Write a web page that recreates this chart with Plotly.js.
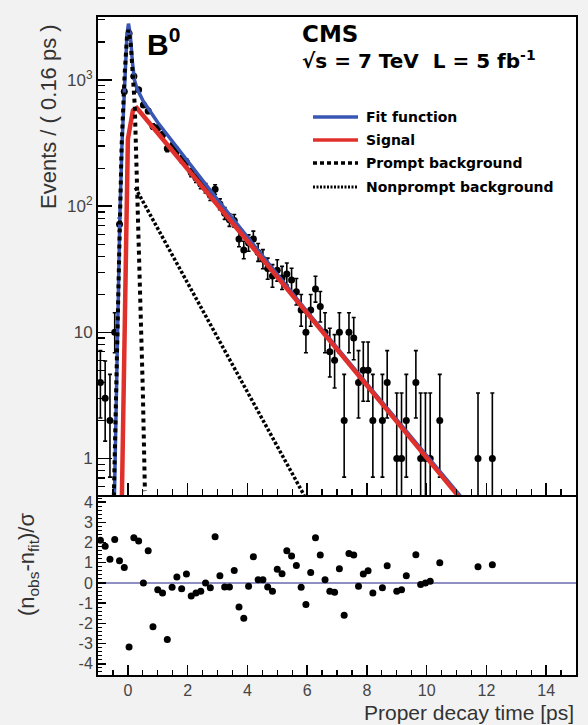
<!DOCTYPE html>
<html>
<head>
<meta charset="utf-8">
<script src="https://cdn.plot.ly/plotly-3.0.1.min.js"></script>
<style>
  html, body { margin: 0; padding: 0; background: #f2f2f2; }
  #chart { width: 588px; height: 725px; }
</style>
</head>
<body>
<div id="chart"></div>
<script>
// ---- data ----
// bin centres (ps), 0.16 ps bins
const binT = [-0.92,-0.76,-0.60,-0.44,-0.28,-0.12,0.04,0.20,0.36,0.52,0.68,0.84,1.00,1.16,1.32,1.48,1.64,1.80,1.96,2.12,2.28,2.44,2.60,2.76,2.92,3.08,3.24,3.40,3.56,3.72,3.88,4.04,4.20,4.36,4.52,4.68,4.84,5.00,5.16,5.32,5.48,5.64,5.80,5.96,6.12,6.28,6.44,6.60,6.76,6.92,7.08,7.24,7.40,7.56,7.72,7.88,8.04,8.20,8.52,8.68,9.00,9.16,9.32,9.64,9.80,9.96,10.12,10.44,11.72,12.20];
// events per bin
const events = [4,3,2,10,72,811,2342,1070,838,635,568,428,417,369,287,299,275,237,223,185,167,150,139,122,136,104,88,78,77,55,45,51,55,43,38,32,28,31,27,29,26,21,15,10,15,22,16,10,7,6,10,2,10,9,4,5,5,2,2,4,1,1,2,4,1,1,1,2,1,1];
// asymmetric (Poisson) error bars
const errUp = [3.16,2.92,2.64,4.27,8.5,28.5,48.4,32.7,28.9,25.2,23.8,20.7,20.4,19.2,16.9,17.3,16.6,15.4,14.9,13.6,12.9,12.2,11.8,11.0,11.7,10.2,9.4,8.8,8.8,8.45,7.76,8.18,8.45,7.61,7.22,6.73,6.38,6.64,6.29,6.47,6.19,5.67,4.95,4.27,4.95,5.78,5.08,4.27,3.77,3.58,4.27,2.64,4.27,4.11,3.16,3.38,3.38,2.64,2.64,3.16,2.30,2.30,2.64,3.16,2.30,2.30,2.30,2.64,2.30,2.30];
const errDown = [1.91,1.63,1.29,3.11,8.5,28.5,48.4,32.7,28.9,25.2,23.8,20.7,20.4,19.2,16.9,17.3,16.6,15.4,14.9,13.6,12.9,12.2,11.8,11.0,11.7,10.2,9.4,8.8,8.8,7.39,6.68,7.11,7.39,6.53,6.14,5.63,5.27,5.54,5.18,5.36,5.08,4.55,3.82,3.11,3.82,4.66,3.95,3.11,2.58,2.38,3.11,1.29,3.11,2.94,1.91,2.16,2.16,1.29,1.29,1.91,0.83,0.83,1.29,1.91,0.83,0.83,0.83,1.29,0.83,0.83];
// residuals (n_obs - n_fit)/sigma
const pulls = [2.11,1.82,1.17,2.15,1.10,0.76,-3.17,2.23,2.08,0.00,1.59,-2.16,-0.33,-0.49,-2.80,-0.21,0.29,-0.28,0.44,-0.65,-0.49,-0.41,0.00,-0.24,2.28,0.36,-0.20,-0.20,0.62,-1.19,-1.74,-0.16,1.30,0.16,0.16,-0.20,-0.41,0.68,0.46,1.59,1.33,0.86,-0.21,-1.06,0.52,2.23,1.38,0.16,-0.41,-0.46,0.70,-1.59,1.46,1.38,-0.16,0.44,0.60,-0.49,-0.24,0.85,-0.41,-0.33,0.36,1.40,-0.08,0.00,0.08,1.00,0.80,0.90];

// fit curves
const fitT = [-0.45,-0.40,-0.36,-0.32,-0.27,-0.20,-0.10,-0.03,0.02,0.08,0.15,0.22,0.30,0.50,1.0,2.0,3.0,4.0,5.0,6.0,8.0,11.3];
const fitV = [0.5,2.5,8,20,80,300,1100,2300,2800,2300,1400,1000,860,690,460,225,113,57,29,14.6,3.9,0.45];
const sigT = [-0.20,-0.10,0.00,0.17,0.30,4.0,8.0,11.1];
const sigV = [0.5,19.5,340,575,600,53,3.8,0.49];
const promptT = [-0.47,-0.41,-0.37,-0.33,-0.28,-0.21,-0.11,-0.03,0.02,0.10,0.23,0.30,0.43,0.50,0.57];
const promptV = [0.5,2.5,8,20,80,300,1100,2200,2500,1900,630,162,20,3.5,0.55];
const nonpT = [0.25,5.9];
const nonpV = [140,0.51];

const logTickVals = [1,10,100,1000];
const logTickText = ['1','10','10<sup>2</sup>','10<sup>3</sup>'];
const xTickVals = [0,2,4,6,8,10,12,14];
const pullTickVals = [-4,-3,-2,-1,0,1,2,3,4];
const pullTickText = ['-4','-3','-2','-1','0','1','2','3','4'];

const legendNames = ['Fit function','Signal','Prompt background','Nonprompt background'];

// ---- figure ----
const FONT = 'Liberation Sans, Arial, Helvetica, sans-serif';
const WIDE = 'DejaVu Sans, Liberation Sans, sans-serif';
const minorLog = [];
[0.1,1,10,100,1000].forEach(d => { for (let k = 2; k <= 9; k++) minorLog.push(k*d); });

const traces = [
  {x: binT, y: events, type: 'scatter', mode: 'markers', xaxis: 'x', yaxis: 'y',
   marker: {color: 'black', size: 7},
   error_y: {type: 'data', symmetric: false, array: errUp, arrayminus: errDown, color: 'black', thickness: 1.6, width: 2},
   showlegend: false},
  {x: fitT, y: fitV, type: 'scatter', mode: 'lines', xaxis: 'x', yaxis: 'y',
   line: {color: '#3a56b4', width: 3.5}, showlegend: false},
  {x: sigT, y: sigV, type: 'scatter', mode: 'lines', xaxis: 'x', yaxis: 'y',
   line: {color: '#e0302c', width: 4.5}, showlegend: false},
  {x: nonpT, y: nonpV, type: 'scatter', mode: 'lines', xaxis: 'x', yaxis: 'y',
   line: {color: 'black', width: 3.5, dash: '3px,2px'}, showlegend: false},
  {x: promptT, y: promptV, type: 'scatter', mode: 'lines', xaxis: 'x', yaxis: 'y',
   line: {color: 'black', width: 4, dash: '4px,4px'}, showlegend: false},
  {x: binT, y: pulls, type: 'scatter', mode: 'markers', xaxis: 'x2', yaxis: 'y2',
   marker: {color: 'black', size: 7}, showlegend: false}
];

// plot-area pixel helpers (for annotations placed like the original)
const L = 98, R = 576, T = 17, B = 675;
const px = v => (v - L) / (R - L);
const py = v => (B - v) / (B - T);

const legendStyles = [
  {color: '#3a56b4', width: 3.5, dash: 'solid'},
  {color: '#e0302c', width: 3.5, dash: 'solid'},
  {color: 'black', width: 3.5, dash: '4px,3px'},
  {color: 'black', width: 3, dash: '2px,1.5px'}
];
const legendRowsY = [117, 140, 163, 187];

const shapes = [
  {type: 'line', xref: 'x2 domain', yref: 'y2', x0: 0, x1: 1, y0: 0, y1: 0,
   line: {color: '#6a6ab0', width: 1.5}, layer: 'below'}
];
const annotations = [
  {text: '<b>B<sup>0</sup></b>', xref: 'paper', yref: 'paper', x: px(145), y: py(42), xanchor: 'left', yanchor: 'middle',
   showarrow: false, font: {family: FONT, size: 30, color: 'black'}},
  {text: '<b>CMS</b>', xref: 'paper', yref: 'paper', x: px(300), y: py(34), xanchor: 'left', yanchor: 'middle',
   showarrow: false, font: {family: WIDE, size: 23, color: 'black'}},
  {text: '<b>√s = 7 TeV  L = 5 fb<sup>-1</sup></b>', xref: 'paper', yref: 'paper', x: px(300), y: py(60), xanchor: 'left', yanchor: 'middle',
   showarrow: false, font: {family: WIDE, size: 20, color: 'black'}},
  {text: 'Events / ( 0.16 ps )', xref: 'paper', yref: 'paper', x: px(49), y: py(117), xanchor: 'center', yanchor: 'middle',
   textangle: -90, showarrow: false, font: {family: FONT, size: 22, color: '#333'}},
  {text: '(n<sub>obs</sub>-n<sub>fit</sub>)/σ', xref: 'paper', yref: 'paper', x: px(28), y: py(565), xanchor: 'center', yanchor: 'middle',
   textangle: -90, showarrow: false, font: {family: FONT, size: 22, color: '#333'}},
  {text: 'Proper decay time [ps]', xref: 'paper', yref: 'paper', x: px(576), y: py(712), xanchor: 'right', yanchor: 'middle',
   showarrow: false, font: {family: FONT, size: 21, color: '#333'}}
];
legendNames.forEach((name, i) => {
  shapes.push({type: 'line', xref: 'paper', yref: 'paper', x0: px(313), x1: px(358), y0: py(legendRowsY[i]), y1: py(legendRowsY[i]),
    line: legendStyles[i]});
  annotations.push({text: '<b>' + name + '</b>', xref: 'paper', yref: 'paper', x: px(364), y: py(legendRowsY[i]),
    xanchor: 'left', yanchor: 'middle', showarrow: false, font: {family: WIDE, size: 14, color: 'black'}});
});

const axisCommon = {showline: true, linecolor: 'black', linewidth: 2, mirror: true, showgrid: false, zeroline: false,
  ticks: 'inside', tickcolor: 'black', tickwidth: 1.5};

const layout = {
  width: 588, height: 725,
  margin: {l: L, r: 588 - R, t: T, b: 725 - B},
  paper_bgcolor: '#f2f2f2', plot_bgcolor: 'white',
  font: {family: FONT, color: '#444'},
  showlegend: false,
  xaxis: Object.assign({}, axisCommon, {domain: [0, 1], anchor: 'y', range: [-1, 15], tickvals: xTickVals,
    showticklabels: false, ticklen: 12, minor: {dtick: 0.5, tick0: 0, ticks: 'inside', ticklen: 6, tickcolor: 'black', tickwidth: 1.2}}),
  yaxis: Object.assign({}, axisCommon, {domain: [0.2736, 1], anchor: 'x', type: 'log', range: [-0.29, 3.5],
    tickvals: logTickVals, ticktext: logTickText, ticklen: 14, tickfont: {size: 17, color: '#444'},
    minor: {tickvals: minorLog, ticks: 'inside', ticklen: 7, tickcolor: 'black', tickwidth: 1.2}}),
  xaxis2: Object.assign({}, axisCommon, {domain: [0, 1], anchor: 'y2', matches: 'x', range: [-1, 15], tickvals: xTickVals,
    ticklen: 10, tickfont: {size: 16, color: '#444'},
    minor: {dtick: 0.5, tick0: 0, ticks: 'inside', ticklen: 5, tickcolor: 'black', tickwidth: 1.2}}),
  yaxis2: Object.assign({}, axisCommon, {domain: [0, 0.2705], anchor: 'x2', range: [-4.55, 4.25],
    tickvals: pullTickVals, ticktext: pullTickText, ticklen: 8, tickfont: {size: 16, color: '#444'},
    minor: {dtick: 0.2, tick0: 0, ticks: 'inside', ticklen: 4, tickcolor: 'black', tickwidth: 1}}),
  shapes: shapes,
  annotations: annotations
};

Plotly.newPlot('chart', traces, layout, {displayModeBar: false, staticPlot: true});
</script>
</body>
</html>
